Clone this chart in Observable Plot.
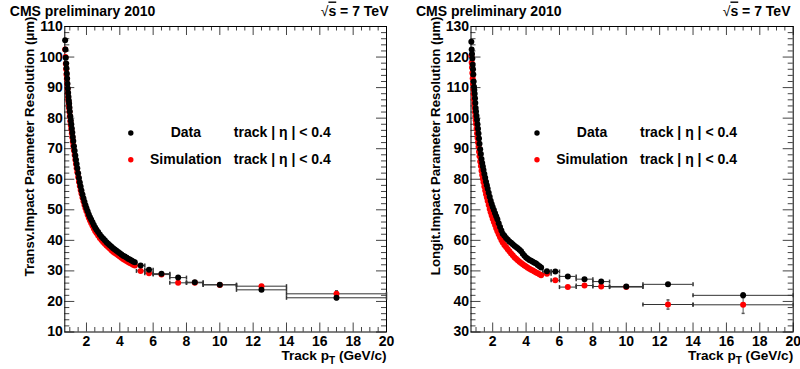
<!DOCTYPE html>
<html><head><meta charset="utf-8">
<script src="https://cdn.jsdelivr.net/npm/d3@7"></script>
<script src="https://cdn.jsdelivr.net/npm/@observablehq/plot@0.6"></script>
<style>
body{margin:0;background:#fff;}
#wrap{display:flex;width:800px;height:369px;overflow:hidden;}
svg{font-family:"Liberation Sans",Arial,Helvetica,sans-serif;}
svg text{font-weight:bold;}
</style></head><body><div id="wrap"></div>
<script>
// ---- data ----
const densePt = [0.72,0.74,0.76,0.78,0.80,0.82,0.84,0.86,0.88,0.90,0.92,0.94,0.96,0.98,1.00,1.03,1.06,1.09,1.12,1.15,1.18,1.21,1.25,1.29,1.33,1.37,1.41,1.45,1.50,1.55,1.60,1.65,1.70,1.76,1.82,1.88,1.94,2.00,2.07,2.14,2.21,2.28,2.36,2.44,2.52,2.60,2.70,2.80,2.90,3.00,3.10,3.20,3.30,3.40,3.50,3.60,3.70,3.80,3.90,4.00,4.10,4.20,4.30,4.40,4.50,4.60,4.70,4.80,4.90];
const sparsePt = [5.25,5.75,6.5,7.5,8.5,10,12.5,17];
const sparseLo = [5,5.5,6,7,8,9,11,14];
const sparseHi = [5.5,6,7,8,9,11,14,20];

const transvDataDense = [105.5,102.5,99.8,97.9,96.3,94.6,93.0,91.3,89.7,88.3,87.0,85.8,84.8,83.5,82.2,80.6,79.2,78.0,76.6,75.3,73.8,72.5,70.8,69.3,67.8,66.4,65.0,63.6,62.0,60.4,58.9,57.6,56.3,55.0,53.8,52.6,51.5,50.5,49.5,48.5,47.6,46.8,45.9,45.0,44.2,43.5,42.7,41.9,41.2,40.6,40.0,39.4,38.9,38.4,37.9,37.4,37.0,36.6,36.2,35.8,35.4,35.0,34.7,34.4,34.0,33.7,33.4,33.1,32.8];
const transvSimDense = [102.5,100.0,97.8,96.0,94.3,92.8,91.2,89.6,88.2,86.8,85.5,84.3,83.2,82.0,80.6,79.0,77.6,76.4,75.0,73.7,72.3,71.0,69.4,67.9,66.4,65.0,63.6,62.3,60.7,59.2,57.8,56.5,55.3,54.0,52.8,51.6,50.5,49.5,48.4,47.4,46.5,45.7,44.8,43.9,43.1,42.4,41.6,40.8,40.1,39.5,38.9,38.3,37.8,37.3,36.8,36.3,35.9,35.5,35.1,34.7,34.3,33.9,33.6,33.2,32.9,32.6,32.3,32.0,31.8];
const transvDataSparse = [31.8,30.4,29.1,27.8,26.3,25.5,23.8,21.2];
const transvSimSparse = [30.0,29.2,28.8,26.1,26.1,25.4,25.0,22.5];
const transvDataErr = [0,0,0,0,0,0,0.4,0.6];
const transvSimErr = [0,0,0,0,0,0,0.5,1.0];

const longDataDense = [125.0,122.5,121.0,119.5,117.5,116.0,114.3,112.0,110.3,109.2,108.0,106.5,105.0,103.3,102.2,100.8,99.5,98.0,96.5,95.0,93.3,91.6,89.8,88.3,86.6,85.3,84.2,83.0,81.7,80.5,79.2,78.0,76.9,75.6,74.3,73.0,71.9,70.9,69.9,68.9,67.9,66.9,65.6,64.4,63.2,62.2,61.5,60.8,60.2,59.6,59.2,58.7,58.2,57.8,57.4,56.9,56.4,55.6,55.0,54.4,54.0,53.6,53.3,53.0,52.7,52.4,51.9,51.5,51.1];
const longSimDense = [120.4,118.2,116.6,114.8,113.0,111.2,109.5,107.8,106.2,104.8,103.3,101.9,100.6,99.3,98.1,96.5,95.0,93.5,92.0,90.6,89.0,87.5,85.8,84.3,82.8,81.4,80.2,79.0,77.6,76.3,75.1,74.0,72.9,71.6,70.3,69.2,68.1,67.1,66.0,65.0,64.0,63.0,62.0,61.0,60.1,59.3,58.5,57.8,57.1,56.4,55.7,55.1,54.5,54.0,53.5,53.0,52.6,52.2,51.8,51.4,51.0,50.7,50.4,50.1,49.8,49.5,49.2,48.9,48.6];
const longDataSparse = [49.9,49.8,48.2,47.3,46.5,44.9,45.6,42.0];
const longSimSparse = [49.1,46.9,44.7,45.2,44.9,44.7,39.0,38.9];
const longDataErr = [0,0,0,0,0,0,0.5,0.8];
const longSimErr = [0,0,0,0,0,0,1.5,2.8];

const xMajor = [2,4,6,8,10,12,14,16,18,20];
const xMinor = [1,1.5,2.5,3,3.5,4.5,5,5.5,6.5,7,7.5,8.5,9,9.5,10.5,11,11.5,12.5,13,13.5,14.5,15,15.5,16.5,17,17.5,18.5,19,19.5];
const legendLabels = ["Data","Simulation"];
const legendCut = "track | η | < 0.4";
const legendColors = ["#000000","#ff0000"];
const titleLeft = "CMS preliminary 2010";
const titleRight = "√s = 7 TeV";
const xTitle = "Track pT (GeV/c)";

// ---- helpers ----
const vbar = {draw(ctx, size){const r=Math.sqrt(size/Math.PI); ctx.moveTo(0,-r); ctx.lineTo(0,r);}};
const hbar = {draw(ctx, size){const r=Math.sqrt(size/Math.PI); ctx.moveTo(-r,0); ctx.lineTo(r,0);}};

function rows(dense, sparse, err){
  const out = densePt.map((p,i)=>({pt:p, v:dense[i], lo:p, hi:p, e:0, sparse:false}));
  sparsePt.forEach((p,i)=>out.push({pt:p, v:sparse[i], lo:sparseLo[i], hi:sparseHi[i], e:err[i], sparse:true}));
  return out;
}

function panel(cfg){
  const W=400, H=369, mt=26, mb=37.5, ml=cfg.ml, mr=cfg.mr;
  const fh = H-mt-mb, fw = W-ml-mr;
  const [y0,y1] = cfg.yDomain;
  const yMajor = d3.range(y0, y1+0.1, 10);
  const yMinor = d3.range(y0, y1+0.1, 2).filter(v => (v - y0) % 10 !== 0);
  const dataRows = rows(cfg.dataDense, cfg.dataSparse, cfg.dataErr);
  const simRows = rows(cfg.simDense, cfg.simSparse, cfg.simErr);
  const sparseAll = [...simRows, ...dataRows].filter(d=>d.sparse);
  const errAll = sparseAll.filter(d=>d.e>0);
  const tickC = "#444";
  const fs = 14;
  const marks = [
    // ticks (inside, ROOT style)
    Plot.ruleX(xMajor, {x:d=>d, insetTop: fh-9, stroke: tickC}),
    Plot.ruleX(xMinor, {x:d=>d, insetTop: fh-4.5, stroke: tickC}),
    Plot.ruleX(xMajor, {x:d=>d, insetBottom: fh-9, stroke: tickC}),
    Plot.ruleX(xMinor, {x:d=>d, insetBottom: fh-4.5, stroke: tickC}),
    Plot.ruleY(yMajor, {y:d=>d, insetRight: fw-10, stroke: tickC}),
    Plot.ruleY(yMinor, {y:d=>d, insetRight: fw-5, stroke: tickC}),
    Plot.ruleY(yMajor, {y:d=>d, insetLeft: fw-10, stroke: tickC}),
    Plot.ruleY(yMinor, {y:d=>d, insetLeft: fw-5, stroke: tickC}),
    Plot.frame({stroke:"#000"}),
    Plot.axisX(xMajor, {tickSize:0, tickPadding:4.5, fontSize:fs, fontWeight:"bold", label:null}),
    Plot.axisY(yMajor, {tickSize:0, tickPadding:2, fontSize:fs, fontWeight:"bold", label:null}),
    // error bars
    Plot.ruleY(sparseAll, {y:"v", x1:"lo", x2:"hi", stroke:"#333"}),
    Plot.dot(sparseAll, {x:"lo", y:"v", symbol:vbar, r:2, stroke:"#333"}),
    Plot.dot(sparseAll, {x:"hi", y:"v", symbol:vbar, r:2, stroke:"#333"}),
    Plot.ruleX(errAll, {x:"pt", y1:d=>d.v-d.e, y2:d=>d.v+d.e, stroke:"#555"}),
    Plot.dot(errAll, {x:"pt", y:d=>d.v-d.e, symbol:hbar, r:1.5, stroke:"#555"}),
    Plot.dot(errAll, {x:"pt", y:d=>d.v+d.e, symbol:hbar, r:1.5, stroke:"#555"}),
    // points
    Plot.dot(simRows, {x:"pt", y:"v", r:3, fill:legendColors[1]}),
    Plot.dot(dataRows, {x:"pt", y:"v", r:3, fill:legendColors[0]}),
    // titles
    Plot.text([titleLeft], {frameAnchor:"top-left", textAnchor:"start", lineAnchor:"bottom", dx:-55, dy:-11, fontSize:fs, fontWeight:"bold"}),
    Plot.text([titleRight], {frameAnchor:"top-right", textAnchor:"end", lineAnchor:"bottom", dx:cfg.sqrtDx, dy:-11, fontSize:fs, fontWeight:"bold", className:"sqrt-s"}),
    Plot.text([xTitle], {frameAnchor:"bottom-right", textAnchor:"end", lineAnchor:"bottom", dx:0, dy:28, fontSize:13.6, fontWeight:"bold", className:"xtitle"}),
    Plot.text([cfg.yLabel], {frameAnchor:"top-left", textAnchor:"end", lineAnchor:"bottom", rotate:-90, dx:-31.3, dy:-10, fontSize:13.2, fontWeight:"bold"})
  ];
  legendLabels.forEach((lab,i)=>{
    const dy = 106.5 + i*26.8;
    marks.push(Plot.dot([lab], {frameAnchor:"top-left", dx:66, dy, r:2.7, fill:legendColors[i]}));
    marks.push(Plot.text([lab], {frameAnchor:"top-left", dx:121, dy, textAnchor:"middle", lineAnchor:"middle", fontSize:fs, fontWeight:"bold"}));
    marks.push(Plot.text([legendCut], {frameAnchor:"top-left", dx:169, dy, textAnchor:"start", lineAnchor:"middle", fontSize:fs, fontWeight:"bold"}));
  });
  const svg = Plot.plot({
    width:W, height:H, marginLeft:ml, marginRight:mr, marginTop:mt, marginBottom:mb,
    x:{domain:[0.7,20]}, y:{domain:cfg.yDomain},
    style:{fontFamily:'"Liberation Sans",Arial,sans-serif', background:"#fff", overflow:"visible"},
    marks
  });
  // subscript T in x title, overline on s
  d3.select(svg).selectAll("g.xtitle text").each(function(){
    const t = d3.select(this); t.text(null);
    t.append("tspan").text("Track p");
    t.append("tspan").attr("font-size", 10).attr("dy", 4).text("T");
    t.append("tspan").attr("dy", -4).text(" (GeV/c)");
  });
  d3.select(svg).selectAll("g.sqrt-s text").each(function(){
    const t = d3.select(this); t.text(null);
    t.append("tspan").attr("font-weight","normal").text("√");
    t.append("tspan").style("text-decoration","overline").text("s");
    t.append("tspan").text(" = 7 TeV");
  });
  return svg;
}

const wrap = document.getElementById("wrap");
wrap.appendChild(panel({ml:64.3, mr:14, yDomain:[10,110], yLabel:"Transv.Impact Parameter Resolution (μm)",
  dataDense:transvDataDense, simDense:transvSimDense, dataSparse:transvDataSparse, simSparse:transvSimSparse,
  dataErr:transvDataErr, simErr:transvSimErr, sqrtDx:2}));
wrap.appendChild(panel({ml:70.5, mr:7.3, yDomain:[30,130], yLabel:"Longit.Impact Parameter Resolution (μm)",
  dataDense:longDataDense, simDense:longSimDense, dataSparse:longDataSparse, simSparse:longSimSparse,
  dataErr:longDataErr, simErr:longSimErr, sqrtDx:-2.7}));
</script></body></html>
